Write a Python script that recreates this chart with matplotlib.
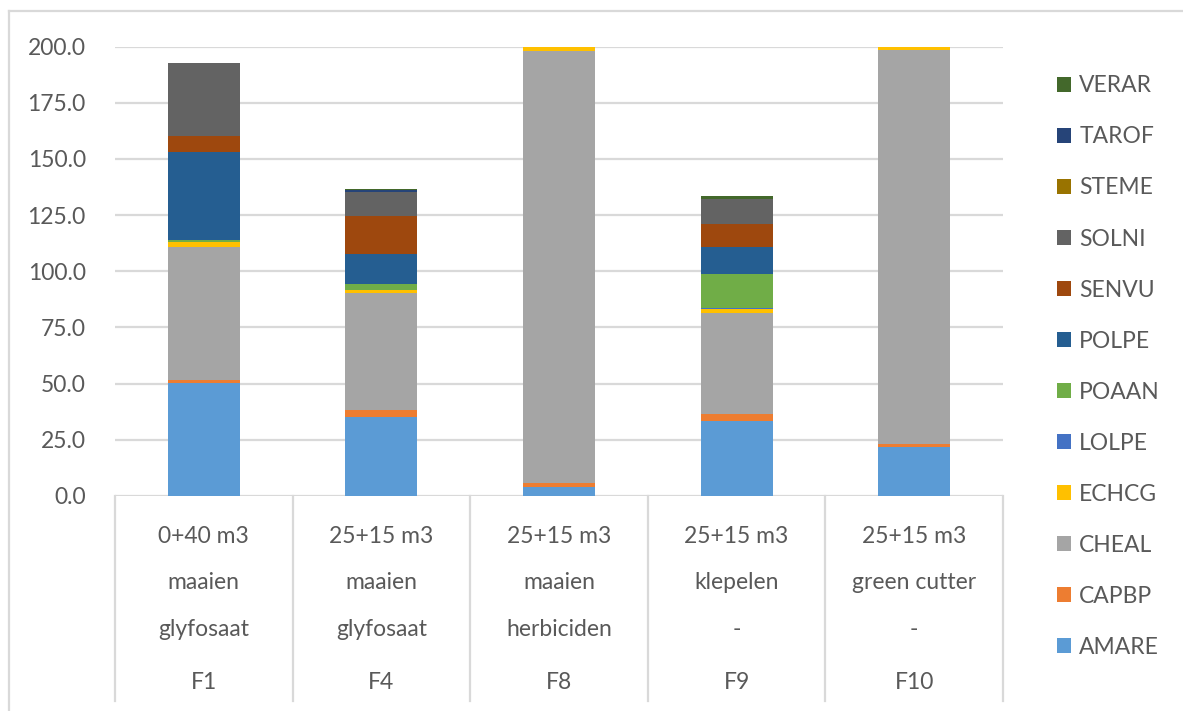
import matplotlib
matplotlib.use("Agg")
import matplotlib.pyplot as plt
from matplotlib.lines import Line2D
import numpy as np

plt.rcParams["font.family"] = ["Lato", "DejaVu Sans"]

# plots and their treatments (dose / first pass / second pass / code)
dose = ["0+40 m3", "25+15 m3", "25+15 m3", "25+15 m3", "25+15 m3"]
pass1 = ["maaien", "maaien", "maaien", "klepelen", "green cutter"]
pass2 = ["glyfosaat", "glyfosaat", "herbiciden", "-", "-"]
plots = ["F1", "F4", "F8", "F9", "F10"]

# weed species, stacked from the bottom up
species = ["AMARE", "CAPBP", "CHEAL", "ECHCG", "LOLPE", "POAAN",
           "POLPE", "SENVU", "SOLNI", "STEME", "TAROF", "VERAR"]
AMARE = [50.2, 35.0, 3.9, 33.4, 21.7]
CAPBP = [1.6, 3.3, 1.7, 2.9, 1.3]
CHEAL = [59.0, 52.0, 192.2, 45.3, 175.4]
ECHCG = [2.3, 1.5, 2.2, 1.5, 1.6]
LOLPE = [0.0, 0.0, 0.0, 0.7, 0.0]
POAAN = [0.9, 2.6, 0.0, 14.8, 0.0]
POLPE = [39.2, 13.4, 0.0, 12.3, 0.0]
SENVU = [6.8, 17.0, 0.0, 10.0, 0.0]
SOLNI = [32.8, 10.5, 0.0, 11.1, 0.0]
STEME = [0.0, 0.0, 0.0, 0.0, 0.0]
TAROF = [0.0, 0.8, 0.0, 0.0, 0.0]
VERAR = [0.0, 0.3, 0.0, 1.5, 0.0]
values = [AMARE, CAPBP, CHEAL, ECHCG, LOLPE, POAAN,
          POLPE, SENVU, SOLNI, STEME, TAROF, VERAR]
colors = ["#5B9BD5", "#ED7D31", "#A5A5A5", "#FFC000", "#4472C4", "#70AD47",
          "#255E91", "#9E480E", "#636363", "#997300", "#264478", "#43682B"]

txt = "#595959"
grid = "#D9D9D9"

fig = plt.figure(figsize=(11.83, 7.11), dpi=100)
ax = fig.add_axes([115/1183, 1 - 496/711, 888/1183, 449.5/711])

x = np.arange(len(plots))
bottom = np.zeros(len(plots))
handles = []
for name, vals, col in zip(species, values, colors):
    b = ax.bar(x, vals, 0.405, bottom=bottom, color=col, label=name,
               linewidth=0, zorder=3)
    handles.append(b)
    bottom += np.array(vals)

ax.set_xlim(-0.5, len(plots) - 0.5)
ax.set_ylim(0, 200)
ax.set_yticks(np.arange(0, 201, 25))
ax.set_yticklabels(["{:.1f}".format(v) for v in np.arange(0, 201, 25)])
ax.yaxis.grid(True, color=grid, linewidth=1.6, zorder=0)
ax.tick_params(axis="y", length=0, pad=21, labelsize=16.5, labelcolor=txt)
ax.set_xticks([])
for s in ax.spines.values():
    s.set_visible(False)

# multi-level category labels below the axis
tr = ax.get_xaxis_transform()
rows = [-0.089, -0.1935, -0.298, -0.414]
for i in range(len(plots)):
    for yy, lab in zip(rows, [dose[i], pass1[i], pass2[i], plots[i]]):
        ax.text(i, yy, lab, transform=tr, ha="center", va="center",
                fontsize=16.5, color=txt)
for xd in np.arange(-0.5, len(plots), 1.0):
    ax.add_line(Line2D([xd, xd], [0, -0.456], transform=tr, color=grid,
                       linewidth=1.6, clip_on=False))

leg = fig.legend(handles[::-1], species[::-1], loc="upper left",
                 bbox_to_anchor=(1046/1183, 1 - 64/711), frameon=False,
                 fontsize=16.5, labelspacing=1.31, handlelength=0.6,
                 handleheight=0.6, handletextpad=0.35, borderpad=0)
for t in leg.get_texts():
    t.set_color(txt)

# chart area outline
fig.add_artist(Line2D([9/1183, 9/1183], [0, 1 - 11/711], color=grid,
                      linewidth=1.6, transform=fig.transFigure))
fig.add_artist(Line2D([9/1183, 1], [1 - 11/711, 1 - 11/711], color=grid,
                      linewidth=1.6, transform=fig.transFigure))

fig.savefig("out.png", dpi=100)
